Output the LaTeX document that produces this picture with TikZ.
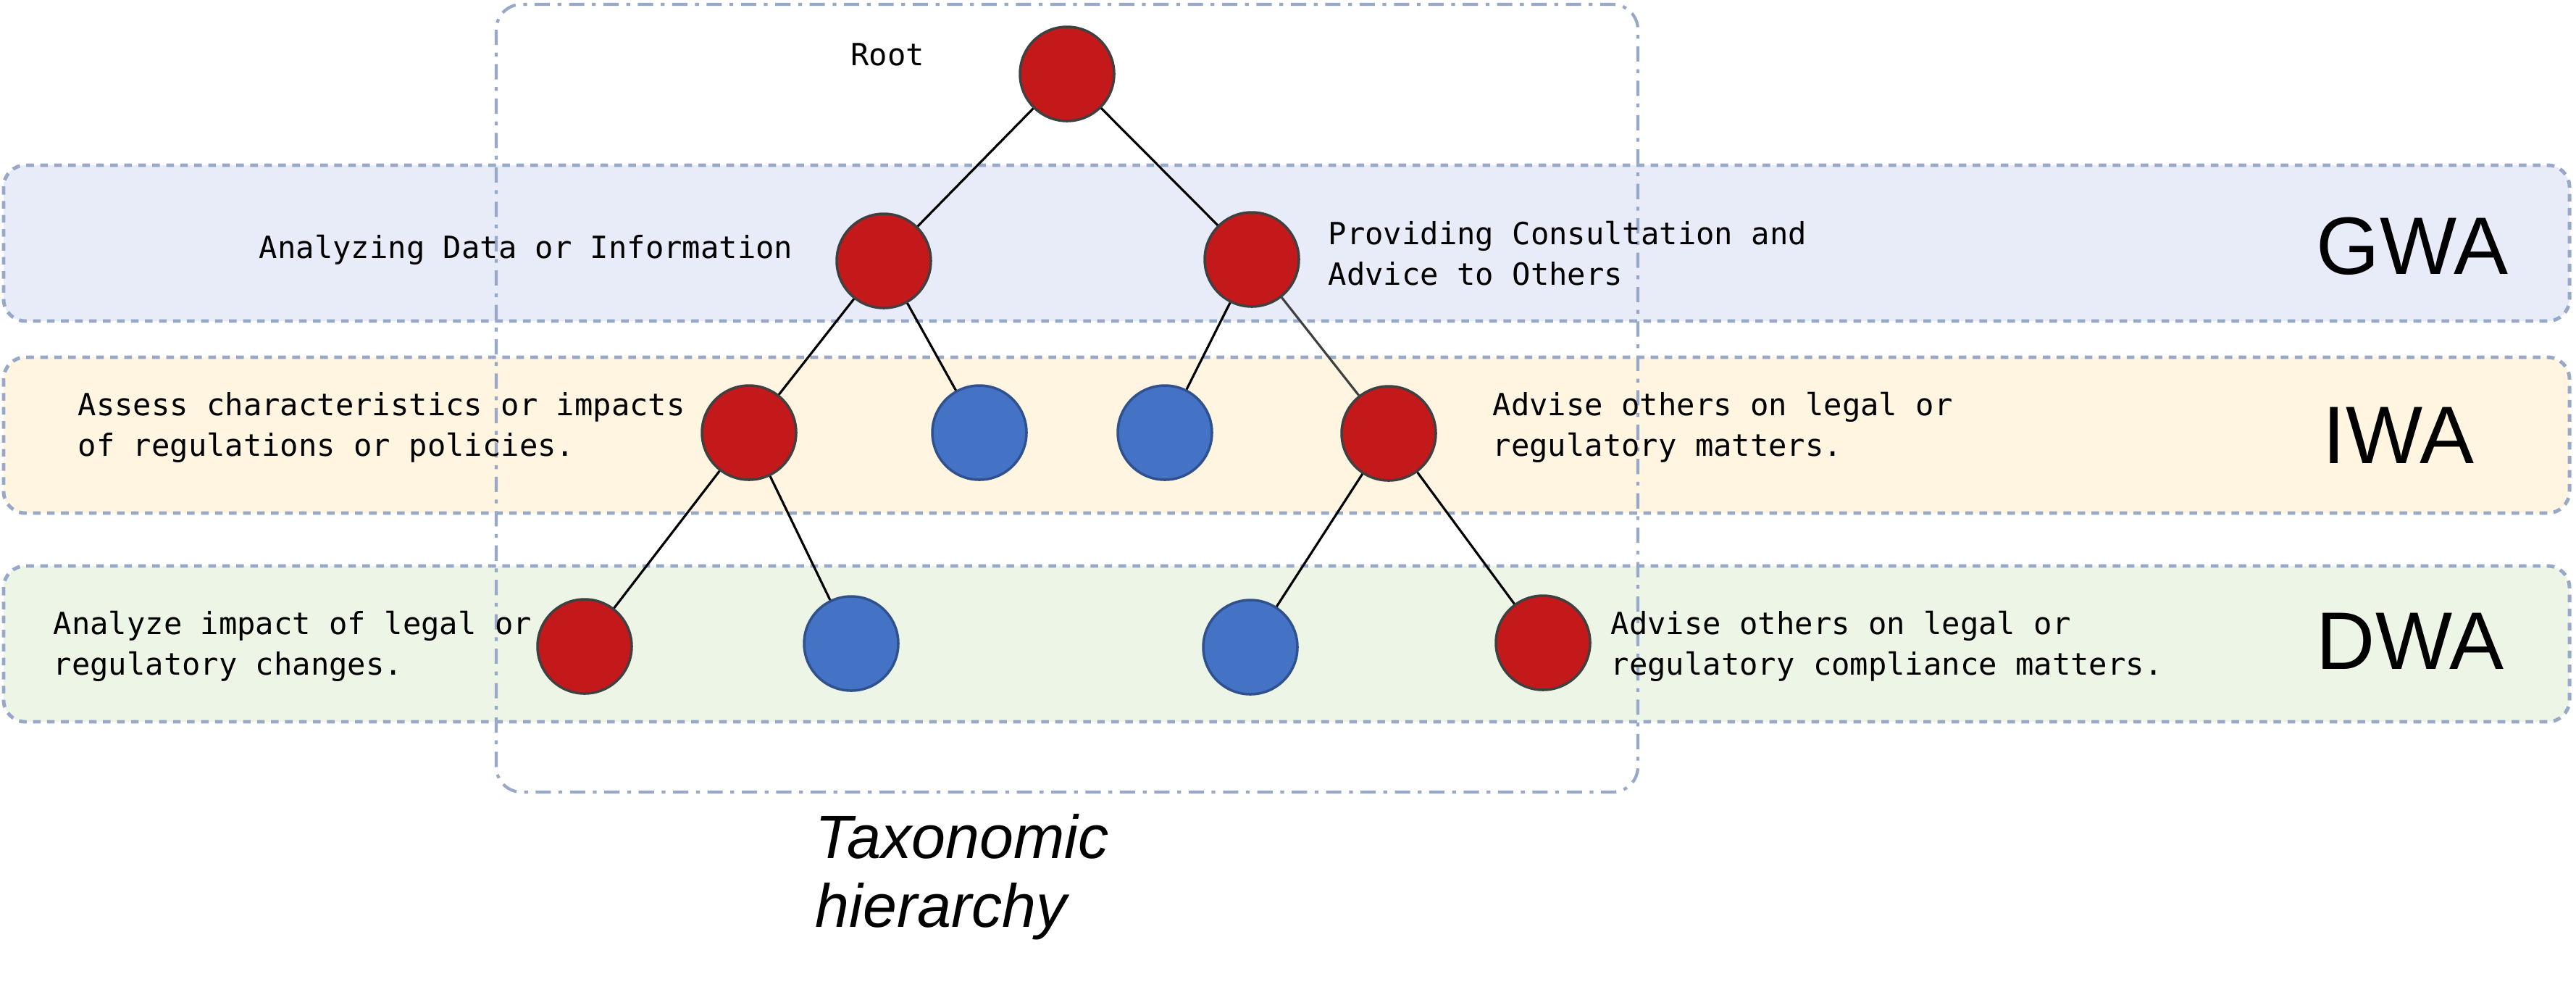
\documentclass[tikz,border=0pt]{standalone}
\usepackage{fontspec}
\setmonofont{DejaVu Sans Mono}
\setsansfont{Liberation Sans}
\usetikzlibrary{positioning}

\definecolor{nodered}{HTML}{C3191B}
\definecolor{nodeblue}{HTML}{4472C4}
\definecolor{rimgray}{HTML}{404040}
\definecolor{rimblue}{HTML}{2F528F}
\definecolor{bandline}{HTML}{97A8C8}
\definecolor{gwafill}{HTML}{E8ECF8}
\definecolor{iwafill}{HTML}{FFF5E1}
\definecolor{dwafill}{HTML}{EDF5E6}

\begin{document}
\begin{tikzpicture}[
		band/.style={draw=bandline, line width=1.4pt, dash pattern=on 3pt off 2.5pt, rounded corners=0.3cm},
		rednode/.style={circle, minimum size=1.3cm, inner sep=0pt, fill=nodered, draw=rimgray, line width=1pt},
		bluenode/.style={circle, minimum size=1.3cm, inner sep=0pt, fill=nodeblue, draw=rimblue, line width=1pt},
		desc/.style={font=\fontsize{12}{16}\selectfont\ttfamily, align=left, inner sep=0pt},
		level/.style={font=\fontsize{32}{36}\selectfont\sffamily, inner sep=0pt},
		link/.style={line width=0.9pt}
	]
		\useasboundingbox (0,0) rectangle (35.56,-13.61);
		
		% Level bands
		\draw[band, fill=gwafill] (0.05,-2.28) rectangle (35.47,-4.43);
		\draw[band, fill=iwafill] (0.05,-4.93) rectangle (35.47,-7.08);
		\draw[band, fill=dwafill] (0.05,-7.81) rectangle (35.47,-9.96);
		
		% Taxonomic hierarchy frame
		\draw[draw=bandline, line width=1.2pt, dash pattern=on 6pt off 3pt on 1.5pt off 3pt, rounded corners=0.35cm] (6.85,-0.06) rectangle (22.61,-10.93);
		
		% Tree nodes
		\node[rednode] (root) at (14.73,-1.02) {};
		\node[rednode] (gwa-l) at (12.20,-3.60) {};
		\node[rednode] (gwa-r) at (17.28,-3.58) {};
		\node[rednode] (iwa-a) at (10.34,-5.97) {};
		\node[bluenode] (iwa-b) at (13.52,-5.97) {};
		\node[bluenode] (iwa-c) at (16.08,-5.97) {};
		\node[rednode] (iwa-d) at (19.17,-5.98) {};
		\node[rednode] (dwa-a) at (8.07,-8.92) {};
		\node[bluenode] (dwa-b) at (11.75,-8.88) {};
		\node[bluenode] (dwa-c) at (17.26,-8.93) {};
		\node[rednode] (dwa-d) at (21.30,-8.87) {};
		
		% Links
		\draw[link] (root) -- (gwa-l);
		\draw[link] (root) -- (gwa-r);
		\draw[link] (gwa-l) -- (iwa-a);
		\draw[link] (gwa-l) -- (iwa-b);
		\draw[link] (gwa-r) -- (iwa-c);
		\draw[link, rimgray] (gwa-r) -- (iwa-d);
		\draw[link] (iwa-a) -- (dwa-a);
		\draw[link] (iwa-a) -- (dwa-b);
		\draw[link] (iwa-d) -- (dwa-c);
		\draw[link] (iwa-d) -- (dwa-d);
		
		% Descriptions
		\node[desc] (root-lbl) at (12.25,-0.75) {Root};
		\node[desc, anchor=east] (gwa-l-lbl) at (10.95,-3.45) {Analyzing Data or Information};
		\node[desc, anchor=west] (gwa-r-lbl) at (18.33,-3.50) {Providing Consultation and\\Advice to Others};
		\node[desc, anchor=west] (iwa-a-lbl) at (1.07,-5.90) {Assess characteristics or impacts\\of regulations or policies.};
		\node[desc, anchor=west] (iwa-d-lbl) at (20.60,-5.90) {Advise others on legal or\\regulatory matters.};
		\node[desc, anchor=west] (dwa-a-lbl) at (0.73,-8.92) {Analyze impact of legal or\\regulatory changes.};
		\node[desc, anchor=west] (dwa-d-lbl) at (22.23,-8.92) {Advise others on legal or\\regulatory compliance matters.};
		
		% Level names
		\node[level] (gwa-name) at (33.30,-3.40) {GWA};
		\node[level] (iwa-name) at (33.11,-6.01) {IWA};
		\node[level] (dwa-name) at (33.27,-8.85) {DWA};
		
		\node[font=\fontsize{24}{27}\selectfont\sffamily\itshape, align=left, anchor=west, inner sep=0pt] (tax-lbl) at (11.25,-12.10) {Taxonomic\\hierarchy};
	\end{tikzpicture}
\end{document}
